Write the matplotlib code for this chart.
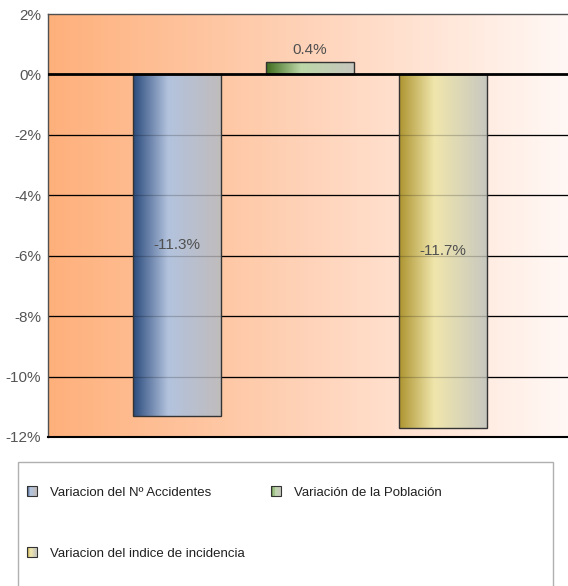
import numpy as np
import matplotlib.pyplot as plt
from matplotlib.colors import LinearSegmentedColormap
from matplotlib.patches import Rectangle
from matplotlib.legend_handler import HandlerBase

series = ['Variacion del Nº Accidentes', 'Variación de la Población',
          'Variacion del indice de incidencia']
values = [-11.3, 0.4, -11.7]
labels = ['-11.3%', '0.4%', '-11.7%']
yticks = [2, 0, -2, -4, -6, -8, -10, -12]

# gradient stops per bar: dark, light, grey
grads = [
    ['#2a4a7c', '#b3c3de', '#c0bcbc'],
    ['#3f6e1e', '#bcd7a8', '#c6c6be'],
    ['#ad9430', '#f0e6ac', '#c8c8c0'],
]

plt.rcParams['font.family'] = ['Liberation Sans', 'DejaVu Sans']
fig = plt.figure(figsize=(5.68, 5.86), dpi=100)
ax = fig.add_axes([48 / 568, 1 - 437 / 586, 1 - 48 / 568, (437 - 14) / 586])

# background gradient
bg = LinearSegmentedColormap.from_list('bg', ['#feb07b', '#ffd3b9', '#fff8f5'])
ax.imshow(np.linspace(0, 1, 256)[None, :], cmap=bg, aspect='auto',
          extent=[0, 1, 0, 1], transform=ax.transAxes, zorder=0)

x = np.arange(len(values))
bars = ax.bar(x, values, width=0.66, color='none', edgecolor='#333333',
              linewidth=1, zorder=3)
for b, g in zip(bars, grads):
    cm = LinearSegmentedColormap.from_list('g', [(0, g[0]), (0.4, g[1]), (1, g[2])])
    x0, y0 = b.get_x(), b.get_y()
    w, h = b.get_width(), b.get_height()
    im = ax.imshow(np.linspace(0, 1, 256)[None, :], cmap=cm, aspect='auto',
                   extent=[x0, x0 + w, y0, y0 + h], zorder=2)
    im.set_clip_path(b)

for xi, v, lab in zip(x, values, labels):
    if v < 0:
        ax.text(xi, v / 2, lab, ha='center', va='center', fontsize=11,
                color='#505050', zorder=5)
    else:
        ax.text(xi, v + 0.4, lab, ha='center', va='center', fontsize=11,
                color='#505050', zorder=5)

for t in yticks[2:-1]:
    ax.axhline(t, color='black', linewidth=0.9, zorder=1)
    ax.axhline(t, color='black', linewidth=0.9, alpha=0.2, zorder=2.5)
ax.axhline(0, color='black', linewidth=2, zorder=4)

ax.set_xlim(-0.97, 2.94)
ax.set_ylim(-12, 2)
ax.set_yticks(yticks)
ax.set_yticklabels([f'{t}%' for t in yticks], fontsize=11, color='#555555')
ax.set_xticks([])
ax.tick_params(axis='y', length=0, pad=5)
for s in ['top', 'left']:
    ax.spines[s].set_color('#505050')
    ax.spines[s].set_linewidth(1)
ax.spines['right'].set_visible(False)
ax.spines['bottom'].set_color('black')
ax.spines['bottom'].set_linewidth(1.5)


class GradHandler(HandlerBase):
    def __init__(self, stops):
        super().__init__()
        self.stops = stops

    def create_artists(self, legend, orig, xd, yd, w, h, fontsize, trans):
        cm = LinearSegmentedColormap.from_list('h', [(0, self.stops[0]),
                                                     (0.4, self.stops[1]),
                                                     (1, self.stops[2])])
        n = 8
        arts = []
        for i in range(n):
            arts.append(Rectangle((xd + w * i / n, yd), w / n + 0.3, h,
                                  facecolor=cm((i + 0.5) / n), edgecolor='none',
                                  transform=trans))
        arts.append(Rectangle((xd, yd), w, h, facecolor='none',
                              edgecolor='#333333', linewidth=0.8, transform=trans))
        return arts


handles = [Rectangle((0, 0), 1, 1) for _ in series]
hmap = {h: GradHandler(g) for h, g in zip(handles, grads)}
# legend fills column-first; reorder so rows read left to right
order = [0, 2, 1]

frame = Rectangle((18 / 568, -0.01), (553 - 18) / 568, (586 - 462) / 586 + 0.01,
                  transform=fig.transFigure, facecolor='white',
                  edgecolor='#b0b0b0', linewidth=1)
fig.patches.append(frame)

fig.legend([handles[i] for i in order], [series[i] for i in order],
           handler_map=hmap, ncol=2, frameon=False,
           loc='upper left', bbox_to_anchor=(20 / 568, 1 - 480 / 586),
           fontsize=9.5, handlelength=0.76, handleheight=0.76,
           handletextpad=1.0, columnspacing=2.0, labelspacing=3.7,
           borderpad=0, labelcolor='#202020')

fig.savefig('out.png', dpi=100)
